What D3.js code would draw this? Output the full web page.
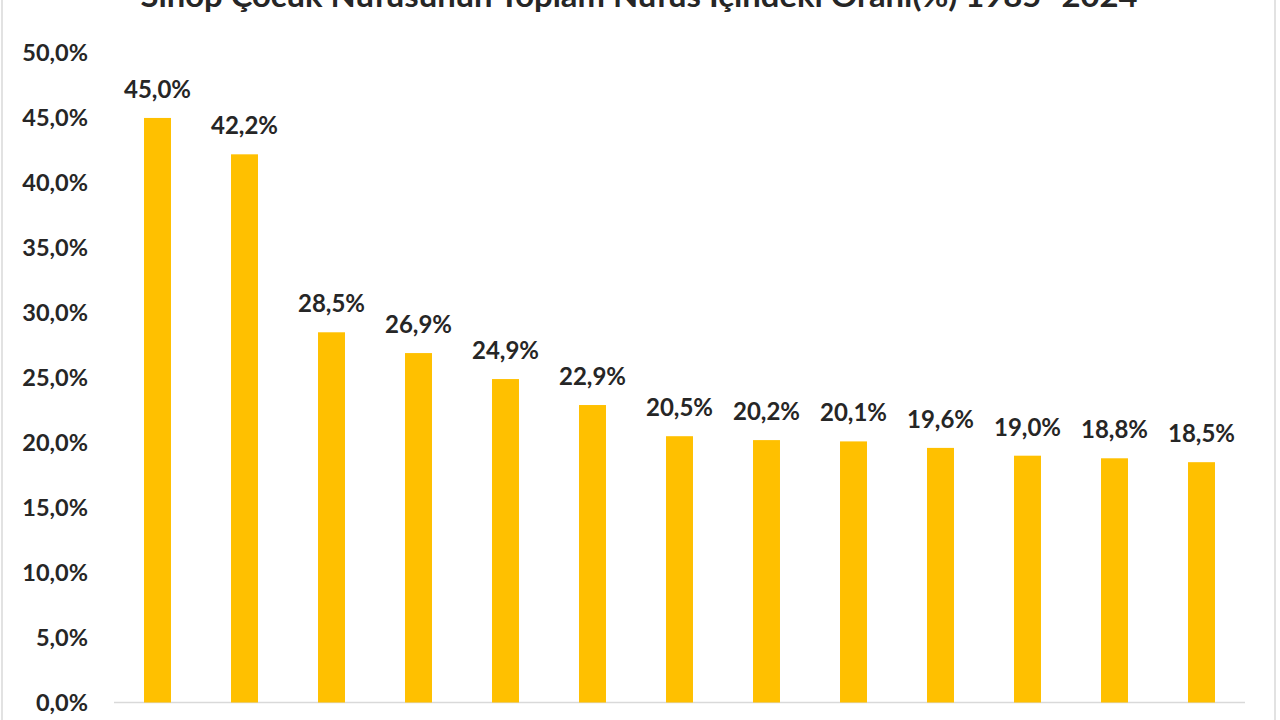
<!DOCTYPE html>
<html><head><meta charset="utf-8">
<script src="https://cdn.jsdelivr.net/npm/d3@7"></script>
<style>html,body{margin:0;padding:0;background:#fff;overflow:hidden}</style>
</head><body>
<svg id="chart" width="1280" height="720"></svg>
<script>
const title = "Sinop Çocuk Nüfusunun Toplam Nüfus İçindeki Oranı(%) 1985 -2024";
const categories = ["1985","1990","2000","2010","2016","2017","2018","2019","2020","2021","2022","2023","2024"];
const values = [45.0, 42.2, 28.5, 26.9, 24.9, 22.9, 20.5, 20.2, 20.1, 19.6, 19.0, 18.8, 18.5];
const yTicks = [0,5,10,15,20,25,30,35,40,45,50];

const svg = d3.select("#chart");
const fmt = v => d3.format(".1f")(v).replace(".", ",") + "%";
const FONT = "Lato, 'Open Sans', sans-serif";

// frame
svg.append("line").attr("x1",2).attr("x2",2).attr("y1",0).attr("y2",720).attr("stroke","#d9d9d9").attr("stroke-width",1.5);
svg.append("line").attr("x1",1275).attr("x2",1275).attr("y1",0).attr("y2",720).attr("stroke","#d9d9d9").attr("stroke-width",1.5);

// title (partly above the top edge, as in the reference)
svg.append("text").attr("x",639).attr("y",7).attr("text-anchor","middle")
  .attr("font-family",FONT).attr("font-weight","bold")
  .attr("font-size",30).attr("fill","#262626")
  .attr("textLength",997).attr("lengthAdjust","spacingAndGlyphs")
  .text(title);

const x = d3.scaleBand().domain(categories).range([114,1245]).paddingInner(0.69).paddingOuter(0.345);
const y = d3.scaleLinear().domain([0,50]).range([702.5,53]);

// y axis labels
const yAxis = d3.axisLeft(y).tickValues(yTicks).tickFormat(fmt).tickSize(0).tickPadding(0);
const gy = svg.append("g").attr("transform","translate(88,0)").call(yAxis);
gy.select(".domain").remove();
gy.selectAll("text").attr("font-family",FONT).attr("font-weight","bold")
  .attr("font-size",23.5).attr("fill","#262626");

// baseline
svg.append("line").attr("x1",114).attr("x2",1245).attr("y1",y(0)).attr("y2",y(0))
  .attr("stroke","#d9d9d9").attr("stroke-width",1.5);

// bars
const data = categories.map((c,i)=>({c, v: values[i]}));
svg.append("g").selectAll("rect").data(data).join("rect")
  .attr("x", d=>x(d.c)).attr("width", x.bandwidth())
  .attr("y", d=>y(d.v)).attr("height", d=>y(0)-y(d.v))
  .attr("fill","#FFC000");

// value labels
svg.append("g").selectAll("text").data(data).join("text")
  .attr("x", d=>x(d.c)+x.bandwidth()/2).attr("y", d=>y(d.v)-20)
  .attr("text-anchor","middle")
  .attr("font-family",FONT).attr("font-weight","bold")
  .attr("font-size",24).attr("fill","#262626")
  .text(d=>fmt(d.v));
</script>
</body></html>
